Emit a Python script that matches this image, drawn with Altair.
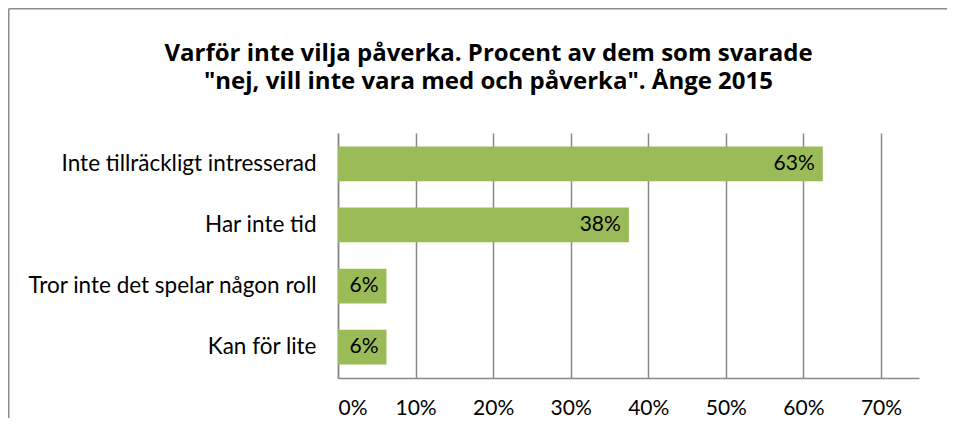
import altair as alt
import pandas as pd

categories = ["Inte tillräckligt intresserad", "Har inte tid", "Tror inte det spelar någon roll", "Kan för lite"]
values = [0.625, 0.375, 0.0625, 0.0625]
labels = ["63%", "38%", "6%", "6%"]
ticks = [0, 0.1, 0.2, 0.3, 0.4, 0.5, 0.6, 0.7]
title_lines = ["Varför inte vilja påverka. Procent av dem som svarade",
               "\"nej, vill inte vara med och påverka\". Ånge 2015"]

df = pd.DataFrame({"kategori": categories, "andel": values, "etikett": labels})

FONT = "Lato"
GRID = "#898989"

x = alt.X("andel:Q",
          scale=alt.Scale(domain=[0, 0.749], nice=False, zero=True),
          axis=alt.Axis(values=ticks, format=".0%", title=None, grid=True,
                        gridColor=GRID, gridWidth=1.5, domainColor=GRID, domainWidth=1.5,
                        ticks=False, labelPadding=19, labelFontSize=21, labelFont=FONT,
                        labelColor="#000000"))
y = alt.Y("kategori:N", sort=categories,
          scale=alt.Scale(paddingInner=0.43, paddingOuter=0.22),
          axis=alt.Axis(title=None, ticks=False, labelPadding=22, labelFontSize=22.5,
                        labelFont=FONT, labelColor="#000000", domainColor=GRID,
                        domainWidth=1.5, labelLimit=400))

bars = alt.Chart(df).mark_bar(color="#9BBB59").encode(x=x, y=y)
text = alt.Chart(df).mark_text(align="right", dx=-8, fontSize=21, font=FONT,
                               color="#000000").encode(x="andel:Q", y=alt.Y("kategori:N", sort=categories),
                                                       text="etikett:N")

border_top = alt.Chart(df.head(1)).mark_rule(color="#8c8c8c", strokeWidth=1.5).encode(
    x=alt.value(-329.25), x2=alt.value(609), y=alt.value(-124.25))
border_left = alt.Chart(df.head(1)).mark_rule(color="#8c8c8c", strokeWidth=1.5).encode(
    x=alt.value(-329.25), y=alt.value(-124.25), y2=alt.value(285))

chart = alt.layer(bars, text, border_top, border_left).properties(
    width=581, height=245,
    autosize=alt.AutoSizeParams(type="none"),
    padding={"left": 330, "top": 125, "right": 28, "bottom": 40},
    title=alt.TitleParams(text=title_lines, font="Open Sans", fontSize=24, fontWeight="bold",
                          color="#000000", anchor="middle", dx=-140, offset=-86,
                          lineHeight=28),
).configure_view(stroke=None)

chart.save("out.html", embed_options={"renderer": "svg", "actions": False})
